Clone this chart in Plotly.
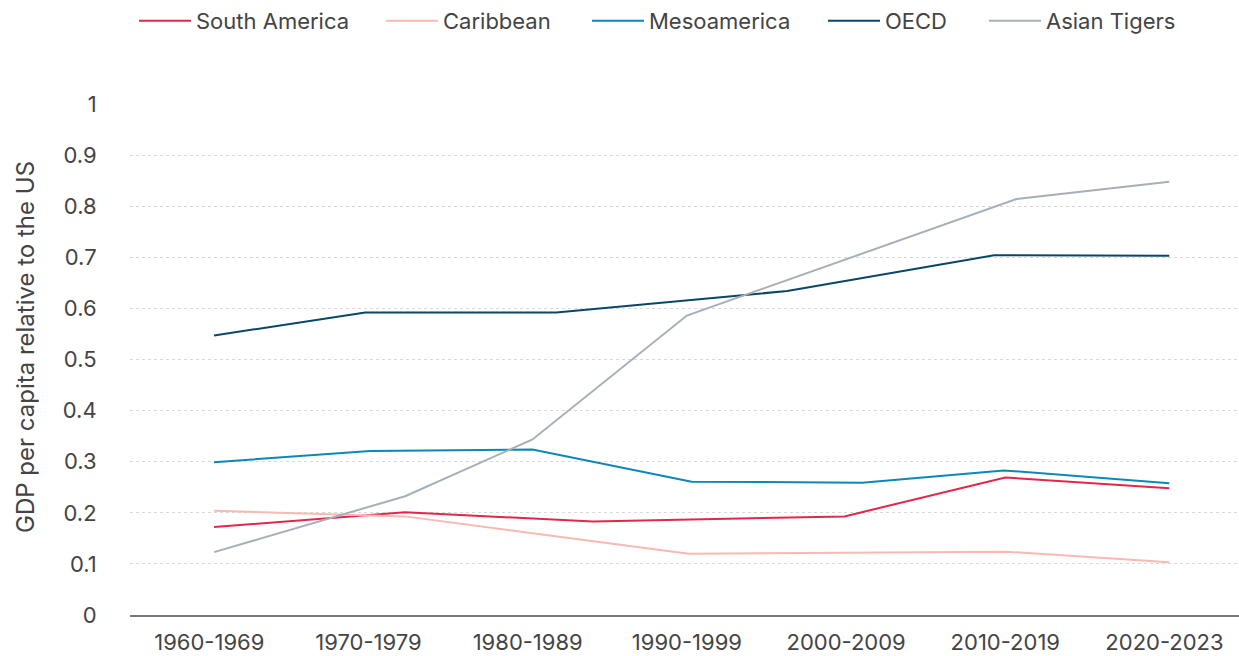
import plotly.graph_objects as go

# ---- data ----
categories = ["1960-1969", "1970-1979", "1980-1989", "1990-1999",
              "2000-2009", "2010-2019", "2020-2023"]

# positions along the decade axis (category index units) where each line bends
sa_x = [0, 1.2, 2.38, 3.96, 4.97, 6]
sa_y = [0.172, 0.201, 0.183, 0.193, 0.269, 0.248]

car_x = [0, 1.2, 2.98, 4.97, 6]
car_y = [0.204, 0.193, 0.120, 0.124, 0.103]

meso_x = [0, 0.98, 2.0, 3.0, 4.07, 4.96, 6]
meso_y = [0.299, 0.321, 0.324, 0.261, 0.259, 0.283, 0.258]

oecd_x = [0, 0.95, 2.15, 3.6, 4.9, 6]
oecd_y = [0.547, 0.592, 0.592, 0.634, 0.704, 0.703]

asia_x = [0, 1.2, 2.0, 2.97, 5.04, 6]
asia_y = [0.123, 0.2325, 0.3435, 0.586, 0.814, 0.848]

series = [
    ("South America", sa_x, sa_y, "#E3264B"),
    ("Caribbean", car_x, car_y, "#F7B9B2"),
    ("Mesoamerica", meso_x, meso_y, "#0B88B6"),
    ("OECD", oecd_x, oecd_y, "#08476A"),
    ("Asian Tigers", asia_x, asia_y, "#A7B0B8"),
]

y_ticks = [0, 0.1, 0.2, 0.3, 0.4, 0.5, 0.6, 0.7, 0.8, 0.9, 1]
y_ticktext = ["0", "0.1", "0.2", "0.3", "0.4", "0.5", "0.6", "0.7", "0.8", "0.9", "1"]
y_title = "GDP per capita relative to the US"

legend_px = [138, 385, 591, 827, 988]   # left edge of each legend entry

W, H = 1239, 656
ML, MR, MT, MB = 130, 0, 104, 41
FONT = "Inter"
TXT = "#444444"
FS = 22

fig = go.Figure()
for i, (name, xs, ys, col) in enumerate(series):
    lg = "legend" if i == 0 else f"legend{i+1}"
    fig.add_trace(go.Scatter(
        x=xs, y=ys, mode="lines", name=name,
        line=dict(color=col, width=2),
        legend=lg, hoverinfo="skip",
    ))

layout_legends = {}
for i, px in enumerate(legend_px):
    key = "legend" if i == 0 else f"legend{i+1}"
    layout_legends[key] = dict(
        xref="container", yref="container",
        x=(px - 4) / W, y=1 - 21 / H, xanchor="left", yanchor="middle",
        orientation="h", bgcolor="rgba(0,0,0,0)", borderwidth=0,
        font=dict(family=FONT, size=FS, color=TXT),
        itemwidth=52,
    )

fig.update_layout(
    width=W, height=H,
    margin=dict(l=ML, r=MR, t=MT, b=MB),
    paper_bgcolor="white", plot_bgcolor="white",
    font=dict(family=FONT, size=FS, color=TXT),
    showlegend=True,
    **layout_legends,
)

plot_w = W - ML - MR
plot_h = H - MT - MB
fig.add_annotation(
    text=y_title, textangle=-90, showarrow=False,
    xref="paper", yref="paper",
    x=(25 - ML) / plot_w, y=(H - MB - 347) / plot_h,
    xanchor="center", yanchor="middle",
    font=dict(family=FONT, size=24, color=TXT),
)

fig.update_xaxes(
    range=[-0.528, 6.438],
    tickmode="array",
    tickvals=[i - 0.03 for i in range(len(categories))],
    ticktext=categories,
    showgrid=False, zeroline=False,
    showline=True, linecolor="#7a7a7a", linewidth=2,
    ticks="outside", ticklen=7, tickcolor="rgba(0,0,0,0)",
    tickfont=dict(family=FONT, size=FS, color=TXT),
)
fig.update_yaxes(
    range=[0, 1.0],
    tickmode="array", tickvals=y_ticks, ticktext=y_ticktext,
    showgrid=True, gridcolor="#d9d9d9", griddash="dot", gridwidth=1,
    zeroline=False, showline=False,
    ticks="outside", ticklen=28, tickcolor="rgba(0,0,0,0)",
    tickfont=dict(family=FONT, size=FS, color=TXT),
)

fig.write_html("out.html")
